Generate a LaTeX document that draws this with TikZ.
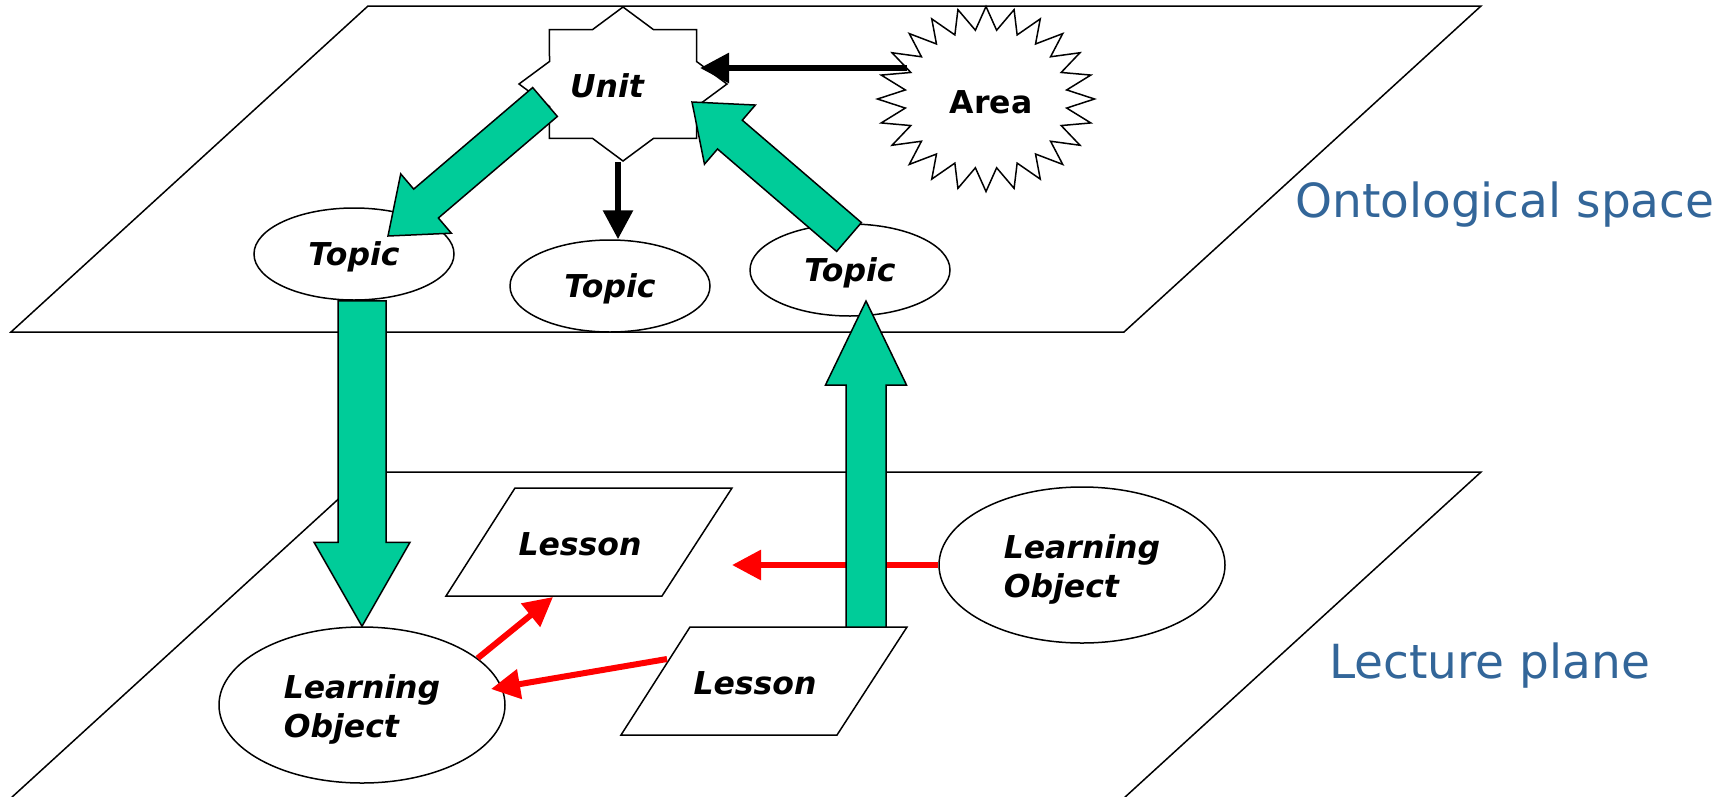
\documentclass[tikz,border=0pt]{standalone}
\usepackage{fontspec}
\setmainfont{DejaVu Sans}
\usetikzlibrary{calc,arrows.meta,shapes.geometric}
\definecolor{lomgreen}{RGB}{0,204,153}
\definecolor{planeblue}{RGB}{51,102,153}
\newcommand\lblfont{\fontsize{31.5}{39}\selectfont\bfseries\itshape}
\newcommand\areafont{\fontsize{31.5}{39}\selectfont\bfseries}
% #1 tail, #2 tip, #3 half shaft, #4 half head, #5 head length
\newcommand\greenarrow[5]{%
  \coordinate (ga-h) at ($(#2)!#5!(#1)$);
  \filldraw[gbox] ($(#1)!#3!90:(#2)$) -- ($(ga-h)!#3!90:(#2)$) -- ($(ga-h)!#4!90:(#2)$)
    -- (#2) -- ($(ga-h)!#4!-90:(#2)$) -- ($(ga-h)!#3!-90:(#2)$) -- ($(#1)!#3!-90:(#2)$) -- cycle;
}
\tikzset{
  plane/.style={draw=black, line width=1.5pt, line join=miter},
  shapeline/.style={draw=black, fill=white, line width=1.5pt, line join=miter},
  topicnode/.style={ellipse, shapeline, minimum width=200pt, minimum height=92pt, inner sep=0pt, font=\lblfont, text height=23pt, text depth=0pt},
  lonode/.style={ellipse, shapeline, minimum width=286pt, minimum height=156pt, inner sep=0pt},
  lotext/.style={inner sep=0pt, align=left, font=\lblfont},
  lbl/.style={inner sep=0pt, font=\lblfont},
  gbox/.style={fill=lomgreen, draw=black, line width=1.5pt, line join=miter},
  redarrow/.style={draw=red, line width=6pt, -{Triangle[length=29pt,width=29pt]}},
  blackarrow/.style={draw=black, line width=6pt, -{Triangle[length=29pt,width=29pt]}},
  planelbl/.style={anchor=base west, inner sep=0pt, text=planeblue, font=\fontsize{47}{56}\selectfont},
}
\begin{document}
\begin{tikzpicture}[x=1pt,y=-1pt]
\useasboundingbox (0,0) rectangle (1729,796);
% planes
\draw[plane] (368,6) -- (1481,6) -- (1124,332) -- (11,332) -- cycle;
\draw[plane] (368,472) -- (1481,472) -- (1124,798) -- (11,798) -- cycle;
\node[planelbl] (ontlabel) at (1295,217) {Ontological space};
\node[planelbl] (leclabel) at (1329,678) {Lecture plane};
% Unit star
\coordinate (unit) at (623,84);
\begin{scope}[shift={(unit)}]
\draw[shapeline] plot[samples at={0,...,15}] ({(mod(\x,2)==0?1:0.765)*104*cos(22.5*\x)},{(mod(\x,2)==0?1:0.765)*77*sin(22.5*\x)}) -- cycle;
\end{scope}
\node[lbl] (unittext) at (607,86) {Unit};
% Area starburst
\coordinate (area) at (986,99);
\begin{scope}[shift={(area)}]
\draw[shapeline] plot[samples at={0,...,47}] ({(mod(\x,2)==0?1:0.75)*108.5*cos(7.5*\x)},{(mod(\x,2)==0?1:0.75)*92.5*sin(7.5*\x)}) -- cycle;
\end{scope}
\node[inner sep=0pt, font=\areafont] (areatext) at (991,102) {Area};
% topics
\node[topicnode] (topic1) at (354,254) {Topic};
\node[topicnode] (topic2) at (610,286) {Topic};
\node[topicnode] (topic3) at (850,270) {Topic};
% learning objects
\node[lonode] (lo1) at (362,705) {};
\node[lotext] (lo1text) at ($(lo1)+(0,4.5)$) {Learning\\Object};
\node[lonode] (lo2) at (1082,565) {};
\node[lotext] (lo2text) at ($(lo2)+(0,4.5)$) {Learning\\Object};
% lessons
\coordinate (L1c) at (589,542);
\coordinate (L2c) at (764,681);
\draw[shapeline] ($(L1c)+(-74,-54)$) -- ($(L1c)+(143,-54)$) -- ($(L1c)+(73,54)$) -- ($(L1c)+(-143,54)$) -- cycle;
\draw[shapeline] ($(L2c)+(-74,-54)$) -- ($(L2c)+(143,-54)$) -- ($(L2c)+(73,54)$) -- ($(L2c)+(-143,54)$) -- cycle;
\node[lbl] (lesson1) at ($(L1c)+(-9,2)$) {Lesson};
\node[lbl] (lesson2) at ($(L2c)+(-9,2)$) {Lesson};
% red arrows
\coordinate (lo2target) at (732,565);
\draw[redarrow] (lo2.west) -- (lo2target);
\draw[redarrow] (lo1.22.6) -- ($(L1c)+(-36,55)$);
\draw[redarrow] ($(L2c)+(-97,-22)$) -- ($(lo1)+(129,-16)$);
% black arrows
\draw[blackarrow] ($(area)+(-79,-31)$) -- ($(unit)+(77,-16)$);
\draw[blackarrow] ($(unit)+(-5,78)$) -- ($(topic2.north)+(8,0)$);
% green arrows
\greenarrow{$(unit)+(-78,18)$}{$(topic1)+(34,-18)$}{19pt}{39pt}{50pt}
\greenarrow{$(topic3)+(-1,-33)$}{$(unit)+(69,18)$}{19pt}{39pt}{50pt}
\greenarrow{lo1.north |- topic1.south}{lo1.north}{24pt}{48pt}{84pt}
\greenarrow{$(L2c)+(102,-54)$}{$(topic3)+(16,31)$}{20pt}{40.5pt}{84pt}
\end{tikzpicture}
\end{document}
